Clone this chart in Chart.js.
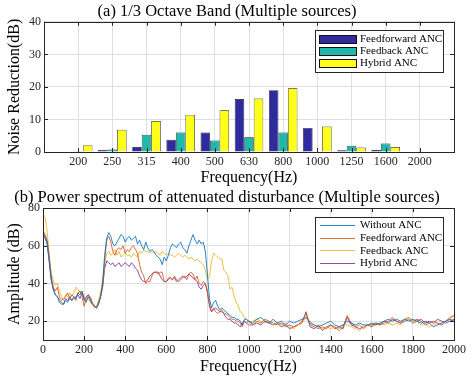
<!DOCTYPE html>
<html><head><meta charset="utf-8">
<script src="https://cdn.jsdelivr.net/npm/chart.js@4/dist/chart.umd.min.js"></script>
<style>
html,body{margin:0;padding:0;background:#fff;width:474px;height:379px;overflow:hidden}
.box{position:absolute;left:0;width:474px}
</style></head><body>
<div class="box" style="top:0;height:189px"><canvas id="c1"></canvas></div>
<div class="box" style="top:189px;height:190px"><canvas id="c2"></canvas></div>
<script>
// ---------- (a) 1/3 octave band ----------
const bandLabels = ['200','250','315','400','500','630','800','1000','1250','1600','2000'];
const feedforwardBand = [0, 0.7, 1.5, 3.8, 6.0, 16.3, 19.0, 7.4, 0.5, 0.6, 0];
const feedbackBand    = [0.1, 0.8, 5.3, 6.0, 3.5, 4.5, 6.0, 0, 1.9, 2.6, 0];
const hybridBand      = [2.1, 6.8, 9.5, 11.4, 12.8, 16.4, 19.6, 7.8, 1.4, 1.5, 0];
const bandYTicks = [0, 10, 20, 30, 40];

// ---------- (b) power spectrum ----------
// sample frequencies: 0..1000 Hz every 10 Hz, then 1020..2000 Hz every 20 Hz
const freqLow = Array.from({length: 101}, (_, i) => i * 10);
const freqHigh = Array.from({length: 50}, (_, i) => 1020 + i * 20);
const freq = freqLow.concat(freqHigh);

const withoutANC = [
67,65,62,52,42,37,34,33,30,29,29,31,30,32,31,33,32,35,34,36,
32,30,33,31,29,28,27,29,33,40,55,64,67,65,61,60,62,64,66,65,
62,64,65,63,64,65,61,63,60,58,62,59,57,58,57,55,54,53,50,54,
52,55,59,61,60,59,61,62,59,58,56,60,63,66,63,61,63,61,62,57,
45,32,27,30,31,28,26,27,26,25,24,23,22,22,21,21,20,18,21,21,
20,
19,21,22,20,19,21,19,20,18,20,19,20,21,22,19,18,17,18,19,20,
18,17,18,20,19,18,19,18,18,19,18,19,20,21,20,21,20,21,20,21,
20,19,20,19,17,18,19,20,21,20];
const feedforwardANC = [
68,66,63,55,44,38,36,38,33,31,32,33,35,32,34,33,31,35,36,33,
28,32,34,33,30,28,27,30,33,38,52,63,65,62,57,55,58,59,58,60,
56,58,57,59,60,58,56,50,46,44,40,41,41,44,46,46,45,46,46,41,
41,43,43,42,44,42,41,42,43,44,42,45,46,45,42,44,40,39,41,40,
36,29,25,27,25,24,25,26,24,24,23,22,21,21,20,20,19,17,20,19,
18,
18,20,19,21,20,19,18,19,17,18,17,18,20,24,18,17,16,17,16,18,
17,15,17,23,19,17,18,16,18,17,19,18,19,20,22,20,19,21,22,20,
21,20,18,19,20,19,18,20,22,23];
const feedbackANC = [
77,75,68,55,45,42,39,40,36,33,31,34,33,35,33,35,38,37,35,36,
33,31,32,30,29,27,28,31,35,42,50,56,57,55,56,58,55,57,54,55,
56,55,55,54,56,55,54,57,56,58,57,57,56,57,56,57,56,55,57,56,
55,56,55,55,54,55,56,55,54,55,54,53,54,53,52,53,52,51,50,47,
42,44,52,56,55,54,53,53,47,46,44,37,38,33,30,28,25,24,22,21,
20,
20,21,20,19,20,18,19,18,19,17,16,18,19,22,20,18,17,16,17,16,
17,16,18,18,17,16,15,17,18,17,18,19,18,19,18,19,18,20,21,19,
20,18,19,17,18,19,18,20,21,23];
const hybridANC = [
66,64,61,52,42,37,34,33,31,30,29,32,31,33,31,32,33,34,32,35,
31,33,34,32,29,28,27,29,33,38,48,52,51,50,51,49,50,51,49,50,
51,50,49,51,50,48,47,44,42,41,41,42,44,45,46,46,46,44,42,41,
41,42,43,42,43,41,42,43,44,43,44,45,44,43,42,41,38,37,39,40,
35,28,25,26,27,26,25,25,24,22,21,21,20,19,19,18,17,19,20,19,
20,
18,19,18,20,19,18,19,17,18,16,17,18,19,25,17,16,18,15,17,18,
16,17,16,22,18,17,16,17,18,18,19,18,20,19,21,20,19,20,21,19,
20,21,19,20,19,21,20,19,20,21];
const specXTicks = [0,200,400,600,800,1000,1200,1400,1600,1800,2000];
const specYTicks = [20, 40, 60, 80];

const SERIF = '"Liberation Serif", "DejaVu Serif", serif';
const GRID = 'rgb(223,223,223)';
const AXIS = '#262626';

const framePlugin = {
  id: 'frame',
  afterDatasetsDraw(chart) {
    const {ctx, chartArea: a, scales} = chart;
    ctx.save();
    ctx.strokeStyle = AXIS; ctx.lineWidth = 1;
    ctx.beginPath();
    const L = 4;
    scales.x.ticks.forEach((t, i) => {
      const px = Math.round(scales.x.getPixelForTick(i)) + 0.5;
      ctx.moveTo(px, a.bottom); ctx.lineTo(px, a.bottom - L);
      ctx.moveTo(px, a.top); ctx.lineTo(px, a.top + L);
    });
    scales.y.ticks.forEach((t, i) => {
      const py = Math.round(scales.y.getPixelForTick(i)) + 0.5;
      ctx.moveTo(a.left, py); ctx.lineTo(a.left + L, py);
      ctx.moveTo(a.right, py); ctx.lineTo(a.right - L, py);
    });
    ctx.stroke();
    ctx.strokeRect(Math.round(a.left) + 0.5, Math.round(a.top) + 0.5,
                   Math.round(a.right - a.left), Math.round(a.bottom - a.top));
    ctx.restore();
  }
};

const boxLegend = {
  id: 'boxLegend',
  afterDraw(chart, args, o) {
    if (!o || !o.width) return;
    const {ctx, chartArea: a} = chart;
    const x0 = Math.round(a.right - o.right - o.width), y0 = Math.round(a.top + o.top);
    ctx.save();
    ctx.fillStyle = '#fff';
    ctx.fillRect(x0, y0, o.width, o.height);
    ctx.strokeStyle = AXIS; ctx.lineWidth = 1;
    ctx.strokeRect(x0 + 0.5, y0 + 0.5, o.width, o.height);
    ctx.font = '11px ' + SERIF;
    ctx.textBaseline = 'middle';
    chart.data.datasets.forEach((ds, i) => {
      const y = y0 + o.first + i * o.step;
      if (o.kind === 'bar') {
        ctx.fillStyle = ds.backgroundColor;
        ctx.fillRect(x0 + 4, Math.round(y - 4), 37, 8);
        ctx.strokeStyle = '#111';
        ctx.strokeRect(x0 + 4.5, Math.round(y - 4) + 0.5, 37, 8);
      } else {
        ctx.strokeStyle = ds.borderColor; ctx.lineWidth = 1;
        ctx.beginPath(); ctx.moveTo(x0 + 5, Math.round(y) + 0.5); ctx.lineTo(x0 + 40, Math.round(y) + 0.5); ctx.stroke();
      }
      ctx.fillStyle = '#000';
      ctx.fillText(ds.label, x0 + 45, y + 0.5);
    });
    ctx.restore();
  }
};

const fixW = w => s => { s.width = w; };
const fixH = h => s => { s.height = h; };

// ---- chart (a)
const catLabels = [''].concat(bandLabels, ['']);
const pad = arr => [null].concat(arr, [null]);
new Chart(document.getElementById('c1'), {
  type: 'bar',
  data: {
    labels: catLabels,
    datasets: [
      {label: 'Feedforward ANC', data: pad(feedforwardBand), backgroundColor: '#2f2a9e', borderColor: '#111', borderWidth: 0.7},
      {label: 'Feedback ANC', data: pad(feedbackBand), backgroundColor: '#20b8aa', borderColor: '#111', borderWidth: 0.7},
      {label: 'Hybrid ANC', data: pad(hybridBand), backgroundColor: '#ffff1a', borderColor: '#111', borderWidth: 0.7}
    ]
  },
  options: {
    responsive: true, maintainAspectRatio: false, animation: false,
    devicePixelRatio: 1,
    layout: {padding: {left: 0, right: 20, top: 0, bottom: 0}},
    categoryPercentage: 0.835, barPercentage: 1.0,
    plugins: {
      legend: {display: false}, tooltip: {enabled: false},
      title: {display: true, text: '(a) 1/3 Octave Band (Multiple sources)', color: '#000',
              font: {family: SERIF, size: 16.5, weight: 'normal', lineHeight: 1.2}, padding: {top: 2, bottom: 0}},
      boxLegend: {kind: 'bar', width: 128, height: 42, right: 11, top: 8, first: 9, step: 12}
    },
    scales: {
      x: {
        type: 'category', offset: false,
        grid: {offset: false, color: GRID, drawTicks: false, lineWidth: 1},
        border: {display: false},
        ticks: {color: AXIS, font: {family: SERIF, size: 12}, padding: 3, maxRotation: 0, autoSkip: false},
        title: {display: true, text: 'Frequency(Hz)', color: '#000', font: {family: SERIF, size: 16, lineHeight: 1}, padding: {top: 0, bottom: 3}},
        afterFit: fixH(37)
      },
      y: {
        min: 0, max: 40,
        afterBuildTicks: s => { s.ticks = bandYTicks.map(v => ({value: v})); },
        grid: {color: GRID, drawTicks: false},
        border: {display: false},
        ticks: {color: AXIS, font: {family: SERIF, size: 12}, padding: 3},
        title: {display: true, text: 'Noise Reduction(dB)', color: '#000', font: {family: SERIF, size: 16, lineHeight: 1}, padding: {top: 7, bottom: 0}},
        afterFit: fixW(44)
      }
    }
  },
  plugins: [framePlugin, boxLegend]
});

// ---- chart (b)
const pts = vals => freq.map((f, i) => ({x: f, y: vals[i]}));
const lineDs = (label, vals, color) => ({label, data: pts(vals), borderColor: color, backgroundColor: color,
  borderWidth: 1, pointRadius: 0, tension: 0, fill: false});
new Chart(document.getElementById('c2'), {
  type: 'line',
  data: {
    datasets: [
      lineDs('Without ANC', withoutANC, 'rgba(0,114,189,0.85)'),
      lineDs('Feedforward ANC', feedforwardANC, 'rgba(217,83,25,0.85)'),
      lineDs('Feedback ANC', feedbackANC, 'rgba(237,177,32,0.85)'),
      lineDs('Hybrid ANC', hybridANC, 'rgba(126,47,142,0.85)')
    ]
  },
  options: {
    responsive: true, maintainAspectRatio: false, animation: false,
    devicePixelRatio: 1,
    layout: {padding: {left: 0, right: 20, top: 0, bottom: 0}},
    plugins: {
      legend: {display: false}, tooltip: {enabled: false},
      title: {display: true, text: '(b) Power spectrum of attenuated disturbance (Multiple sources)', color: '#000',
              font: {family: SERIF, size: 16.5, weight: 'normal', lineHeight: 1.1}, padding: {top: 0, bottom: 1}},
      boxLegend: {kind: 'line', width: 128, height: 55, right: 11, top: 9, first: 8, step: 12.7}
    },
    scales: {
      x: {
        type: 'linear', min: 0, max: 2000,
        afterBuildTicks: s => { s.ticks = specXTicks.map(v => ({value: v})); },
        grid: {color: GRID, drawTicks: false},
        border: {display: false},
        ticks: {color: AXIS, font: {family: SERIF, size: 12}, padding: 3, maxRotation: 0, autoSkip: false,
                callback: v => String(v)},
        title: {display: true, text: 'Frequency(Hz)', color: '#000', font: {family: SERIF, size: 16, lineHeight: 1}, padding: {top: 0, bottom: 4}},
        afterFit: fixH(39)
      },
      y: {
        type: 'linear', min: 10, max: 80,
        afterBuildTicks: s => { s.ticks = specYTicks.map(v => ({value: v})); },
        grid: {color: GRID, drawTicks: false},
        border: {display: false},
        ticks: {color: AXIS, font: {family: SERIF, size: 12}, padding: 3, callback: v => String(v)},
        title: {display: true, text: 'Amplitude (dB)', color: '#000', font: {family: SERIF, size: 16, lineHeight: 1}, padding: {top: 7, bottom: 0}},
        afterFit: fixW(43)
      }
    }
  },
  plugins: [framePlugin, boxLegend]
});
</script>
</body></html>
